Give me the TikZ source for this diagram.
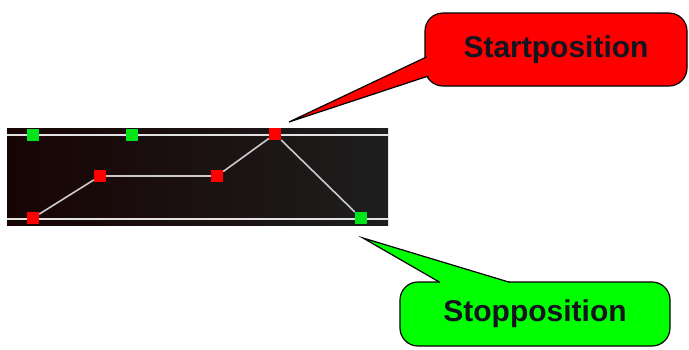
\documentclass[tikz,border=0pt]{standalone}
\usepackage{fontspec}
\setsansfont{Liberation Sans}
\usetikzlibrary{calc}
\definecolor{stripdark}{HTML}{1E1E1E}
\definecolor{stripedge}{HTML}{180404}
\definecolor{glow}{HTML}{3C0A0A}
\definecolor{railgray}{HTML}{E2E2E2}
\definecolor{keyred}{HTML}{FF0000}
\definecolor{keygreen}{HTML}{00E51A}
\definecolor{callred}{HTML}{FF0000}
\definecolor{callgreen}{HTML}{00FF00}
\definecolor{ink}{HTML}{14141E}
\tikzset{
  font=\sffamily\bfseries,
  key/.style={rectangle, inner sep=0pt, minimum size=12pt},
  redkey/.style={key, fill=keyred},
  greenkey/.style={key, fill=keygreen},
  railline/.style={draw=railgray, line width=2pt},
  track/.style={draw=railgray!90!black, line width=1.6pt},
  bubble/.style={
    rectangle, rounded corners=18pt, draw=black, line width=1.2pt,
    text=ink, inner sep=0pt, font=\sffamily\bfseries\fontsize{30}{36}\selectfont
  },
  tipedge/.style={draw=black, line width=1.2pt, line join=miter}
}

\begin{document}
\begin{tikzpicture}[x=1pt,y=-1pt]
  \useasboundingbox (0,0) rectangle (689,349);

  % strip
  \node[rectangle, inner sep=0pt, minimum width=381pt, minimum height=97pt,
        left color=stripedge, middle color=glow, right color=stripdark] (strip) at (197.5,176.5) {};
  \draw[railline] ($(strip.north west)+(0,7)$) -- ($(strip.north east)+(0,7)$);
  \draw[railline] ($(strip.south west)+(0,-6)$) -- ($(strip.south east)+(0,-6)$);

  % keyframes
  \node[greenkey] (g1) at (33,135)  {};
  \node[greenkey] (g2) at (132,135) {};
  \node[redkey]   (p1) at (33,218)  {};
  \node[redkey]   (p2) at (100,176) {};
  \node[redkey]   (p3) at (217,176) {};
  \node[redkey]   (p4) at (275,134) {};
  \node[greenkey] (p5) at (361,218) {};
  \draw[track] (p1) -- (p2) -- (p3) -- (p4) -- (p5);

  % callouts
  \node[bubble, fill=callred, minimum width=262pt, minimum height=73pt] (startbox) at (556,49.5) {Startposition};
  \coordinate (starttip) at (289,122);
  \coordinate (starta) at ($(startbox.west)+(2,7.5)$);
  \coordinate (startb) at ($(startbox.west)+(4,26.5)$);
  \fill[callred] (starttip) -- (starta) -- ++(8,0) -- ($(startb)+(8,0)$) -- (startb) -- cycle;
  \draw[tipedge] (starta) -- (starttip) -- (startb);

  \node[bubble, fill=callgreen, minimum width=270pt, minimum height=64pt] (stopbox) at (535,314) {Stopposition};
  \coordinate (stoptip) at (363,238);
  \coordinate (stopa) at ($(stopbox.north)+(-95,1)$);
  \coordinate (stopb) at ($(stopbox.north)+(-25,1)$);
  \fill[callgreen] (stoptip) -- (stopa) -- ++(0,8) -- ($(stopb)+(0,8)$) -- (stopb) -- cycle;
  \draw[tipedge] (stopa) -- (stoptip) -- (stopb);
\end{tikzpicture}
\end{document}
